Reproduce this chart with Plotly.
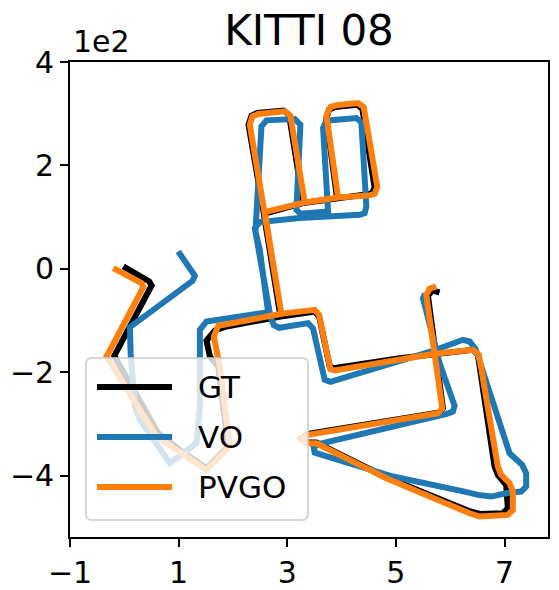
import plotly.graph_objects as go

# ---------------- data (metres) ----------------
gt_x = [-1.9, 45.9, 50.2, -18.5, 62.4, 102.3, 151.3, 191.2, 172.8, 157.5, 151.3, 166.6, 188.1, 287.4,
        256.8, 228.6, 234.1, 244.5, 293.5, 303.3, 329.1, 391.6, 372.0, 376.9, 387.3, 429.0, 438.2, 460.9,
        454.8, 391.6, 329.1, 256.8, 287.4, 350.6, 358.5, 378.1, 385.5, 506.9, 573.1, 641.7, 650.9, 681.6,
        687.7, 703.0, 706.1, 696.9, 654.0, 632.5, 480.0, 353.6, 335.2, 326.0, 338.3, 580.4, 586.6, 573.1,
        559.0, 566.9, 580.4]
gt_y = [4.6, -24.4, -32.2, -168.3, -318.0, -350.2, -385.7, -343.8, -188.9, -169.6, -138.6, -119.3, -111.5,
        -92.2, 106.5, 278.8, 296.2, 301.3, 305.8, 297.5, 127.2, 136.2, 291.7, 307.8, 312.9, 317.5, 309.1,
        156.2, 145.2, 136.2, 127.2, 106.5, -92.2, -82.5, -92.2, -188.9, -192.2, -172.8, -164.4, -156.7,
        -166.4, -382.5, -398.6, -418.0, -463.1, -472.8, -474.1, -467.6, -402.0, -336.0, -336.0, -328.3,
        -319.3, -278.0, -269.6, -164.4, -52.2, -41.9, -45.7]

vo_x = [99.2, 129.9, 125.6, 10.3, 11.6, 19.5, 28.7, 83.9, 132.9, 139.1, 139.1, 151.3, 264.7, 249.4, 241.4,
        244.5, 252.5, 261.7, 313.8, 324.2, 316.8, 324.2, 375.1, 365.9, 372.0, 427.2, 436.4, 445.6, 442.5,
        433.3, 323.0, 249.4, 240.2, 269.0, 275.1, 285.0, 338.3, 347.5, 368.9, 379.4, 565.1, 623.3, 635.6,
        646.6, 709.2, 732.4, 739.8, 739.8, 730.6, 703.0, 675.4, 650.9, 626.4, 494.6, 359.7, 350.5, 348.7,
        359.7, 593.9, 604.9, 608.0, 580.4, 549.8, 554.1]
vo_y = [33.6, -13.5, -23.2, -112.8, -163.1, -266.4, -292.2, -376.0, -337.3, -266.4, -118.0, -101.9, -83.8,
        36.8, 72.3, 120.7, 275.5, 287.1, 289.7, 278.8, 114.3, 106.5, 111.0, 272.3, 286.5, 291.7, 283.3,
        120.7, 107.8, 104.6, 98.1, 90.4, 78.8, -92.2, -109.0, -114.1, -105.1, -115.4, -214.7, -218.6,
        -159.9, -137.3, -140.6, -154.8, -356.7, -379.2, -395.4, -421.2, -430.9, -434.1, -440.5, -437.3,
        -430.9, -401.8, -359.9, -355.4, -345.1, -338.6, -280.6, -276.0, -265.1, -182.5, -56.7, -48.3]

pvgo_x = [-20.3, 31.8, 34.9, -32.6, 59.4, 151.3, 194.2, 175.8, 164.8, 172.8, 289.2, 258.6, 231.0, 235.9,
          246.3, 295.4, 305.8, 332.2, 393.5, 385.5, 372.0, 379.4, 390.4, 430.2, 440.7, 465.8, 460.9, 451.7,
          393.5, 332.2, 258.6, 289.2, 350.6, 358.5, 379.4, 387.3, 500.7, 571.2, 641.7, 652.8, 687.7, 693.8,
          709.2, 715.3, 715.3, 706.1, 654.0, 635.6, 482.3, 353.6, 335.2, 326.0, 338.3, 577.4, 585.3, 571.2,
          555.9, 562.0, 574.3]
pvgo_y = [1.4, -27.7, -35.4, -169.6, -324.4, -388.9, -343.8, -188.9, -130.9, -110.2, -87.0, 109.7, 278.8,
          294.9, 299.4, 304.6, 296.2, 128.4, 138.1, 198.1, 296.2, 312.9, 316.2, 320.7, 312.9, 158.1, 145.2,
          142.0, 138.1, 128.4, 109.7, -87.0, -79.3, -89.0, -194.1, -196.7, -176.0, -164.4, -156.7, -166.4,
          -382.5, -398.6, -414.7, -430.9, -466.3, -476.0, -479.2, -472.8, -405.1, -337.3, -337.3, -329.6,
          -321.2, -279.3, -269.6, -164.4, -50.2, -38.6, -34.1]

series_names = ["GT", "VO", "PVGO"]
series_colors = ["#000000", "#1f77b4", "#ff7f0e"]

x_tick_vals = [-100, 100, 300, 500, 700]
x_tick_text = ["\u22121", "1", "3", "5", "7"]
y_tick_vals = [-400, -200, 0, 200, 400]
y_tick_text = ["\u22124", "\u22122", "0", "2", "4"]

title_text = "KITTI 08"
offset_text = "1e2"

# ---------------- layout geometry (page pixels) ----------------
W, H = 559, 590
PLOT_L, PLOT_R, PLOT_T, PLOT_B = 70, 548, 62, 537   # plot area on the page
L, T, R, B = PLOT_L, PLOT_T, W - PLOT_R, H - PLOT_B
pw, ph = PLOT_R - PLOT_L, PLOT_B - PLOT_T
FONT = "DejaVu Sans"


def fx(px):
    return (px - PLOT_L) / pw


def fy(py):
    return (PLOT_B - py) / ph


fig = go.Figure()
for name, color, xs, ys in zip(series_names, series_colors,
                               [gt_x, vo_x, pvgo_x], [gt_y, vo_y, pvgo_y]):
    fig.add_trace(go.Scatter(x=xs, y=ys, mode="lines", name=name,
                             line=dict(color=color, width=6), showlegend=False))

axis_common = dict(showgrid=False, zeroline=False, showline=True, mirror=True,
                   linecolor="black", linewidth=1.6, ticks="outside", ticklen=8,
                   tickwidth=1.6, tickcolor="black", automargin=False,
                   tickfont=dict(family=FONT, size=30, color="black"))

fig.update_xaxes(range=[-100, 780], tickmode="array", tickvals=x_tick_vals,
                 ticktext=x_tick_text, **axis_common)
fig.update_yaxes(range=[-518.7, 400], tickmode="array", tickvals=y_tick_vals,
                 ticktext=y_tick_text, **axis_common)

# ---------------- manual legend ----------------
x0, x1 = fx(86), fx(308)
y0, y1 = fy(520), fy(358)
rx, ry = 6 / pw, 6 / ph
path = (f"M{x0+rx},{y0} L{x1-rx},{y0} Q{x1},{y0} {x1},{y0+ry} L{x1},{y1-ry} "
        f"Q{x1},{y1} {x1-rx},{y1} L{x0+rx},{y1} Q{x0},{y1} {x0},{y1-ry} "
        f"L{x0},{y0+ry} Q{x0},{y0} {x0+rx},{y0} Z")
shapes = [dict(type="path", xref="paper", yref="paper", path=path,
               fillcolor="rgba(255,255,255,0.8)",
               line=dict(color="rgba(204,204,204,0.8)", width=2), layer="above")]
annotations = []
for i, (name, color) in enumerate(zip(series_names, series_colors)):
    py = 387 + 50 * i
    shapes.append(dict(type="line", xref="paper", yref="paper",
                       x0=fx(97), x1=fx(172), y0=fy(py), y1=fy(py),
                       line=dict(color=color, width=6), layer="above"))
    annotations.append(dict(xref="paper", yref="paper", x=fx(196), y=fy(py),
                            xanchor="left", yanchor="middle", text=name, showarrow=False,
                            font=dict(family=FONT, size=31, color="black")))

annotations.append(dict(xref="paper", yref="paper", x=fx(71), y=fy(41),
                        xanchor="left", yanchor="middle", text=offset_text, showarrow=False,
                        font=dict(family=FONT, size=30, color="black")))

fig.update_layout(
    width=W, height=H,
    margin=dict(l=L, r=R, t=T, b=B, autoexpand=False),
    paper_bgcolor="white", plot_bgcolor="white",
    title=dict(text=title_text, x=fx((PLOT_L + PLOT_R) / 2), xref="paper", xanchor="center",
               y=1 - 30 / H, yref="container", yanchor="middle",
               font=dict(family=FONT, size=42, color="black")),
    shapes=shapes, annotations=annotations,
    showlegend=False,
)

fig.write_html("out.html", config={"displayModeBar": False},
               post_script="document.body.style.margin='0';document.body.style.overflow='hidden';")
